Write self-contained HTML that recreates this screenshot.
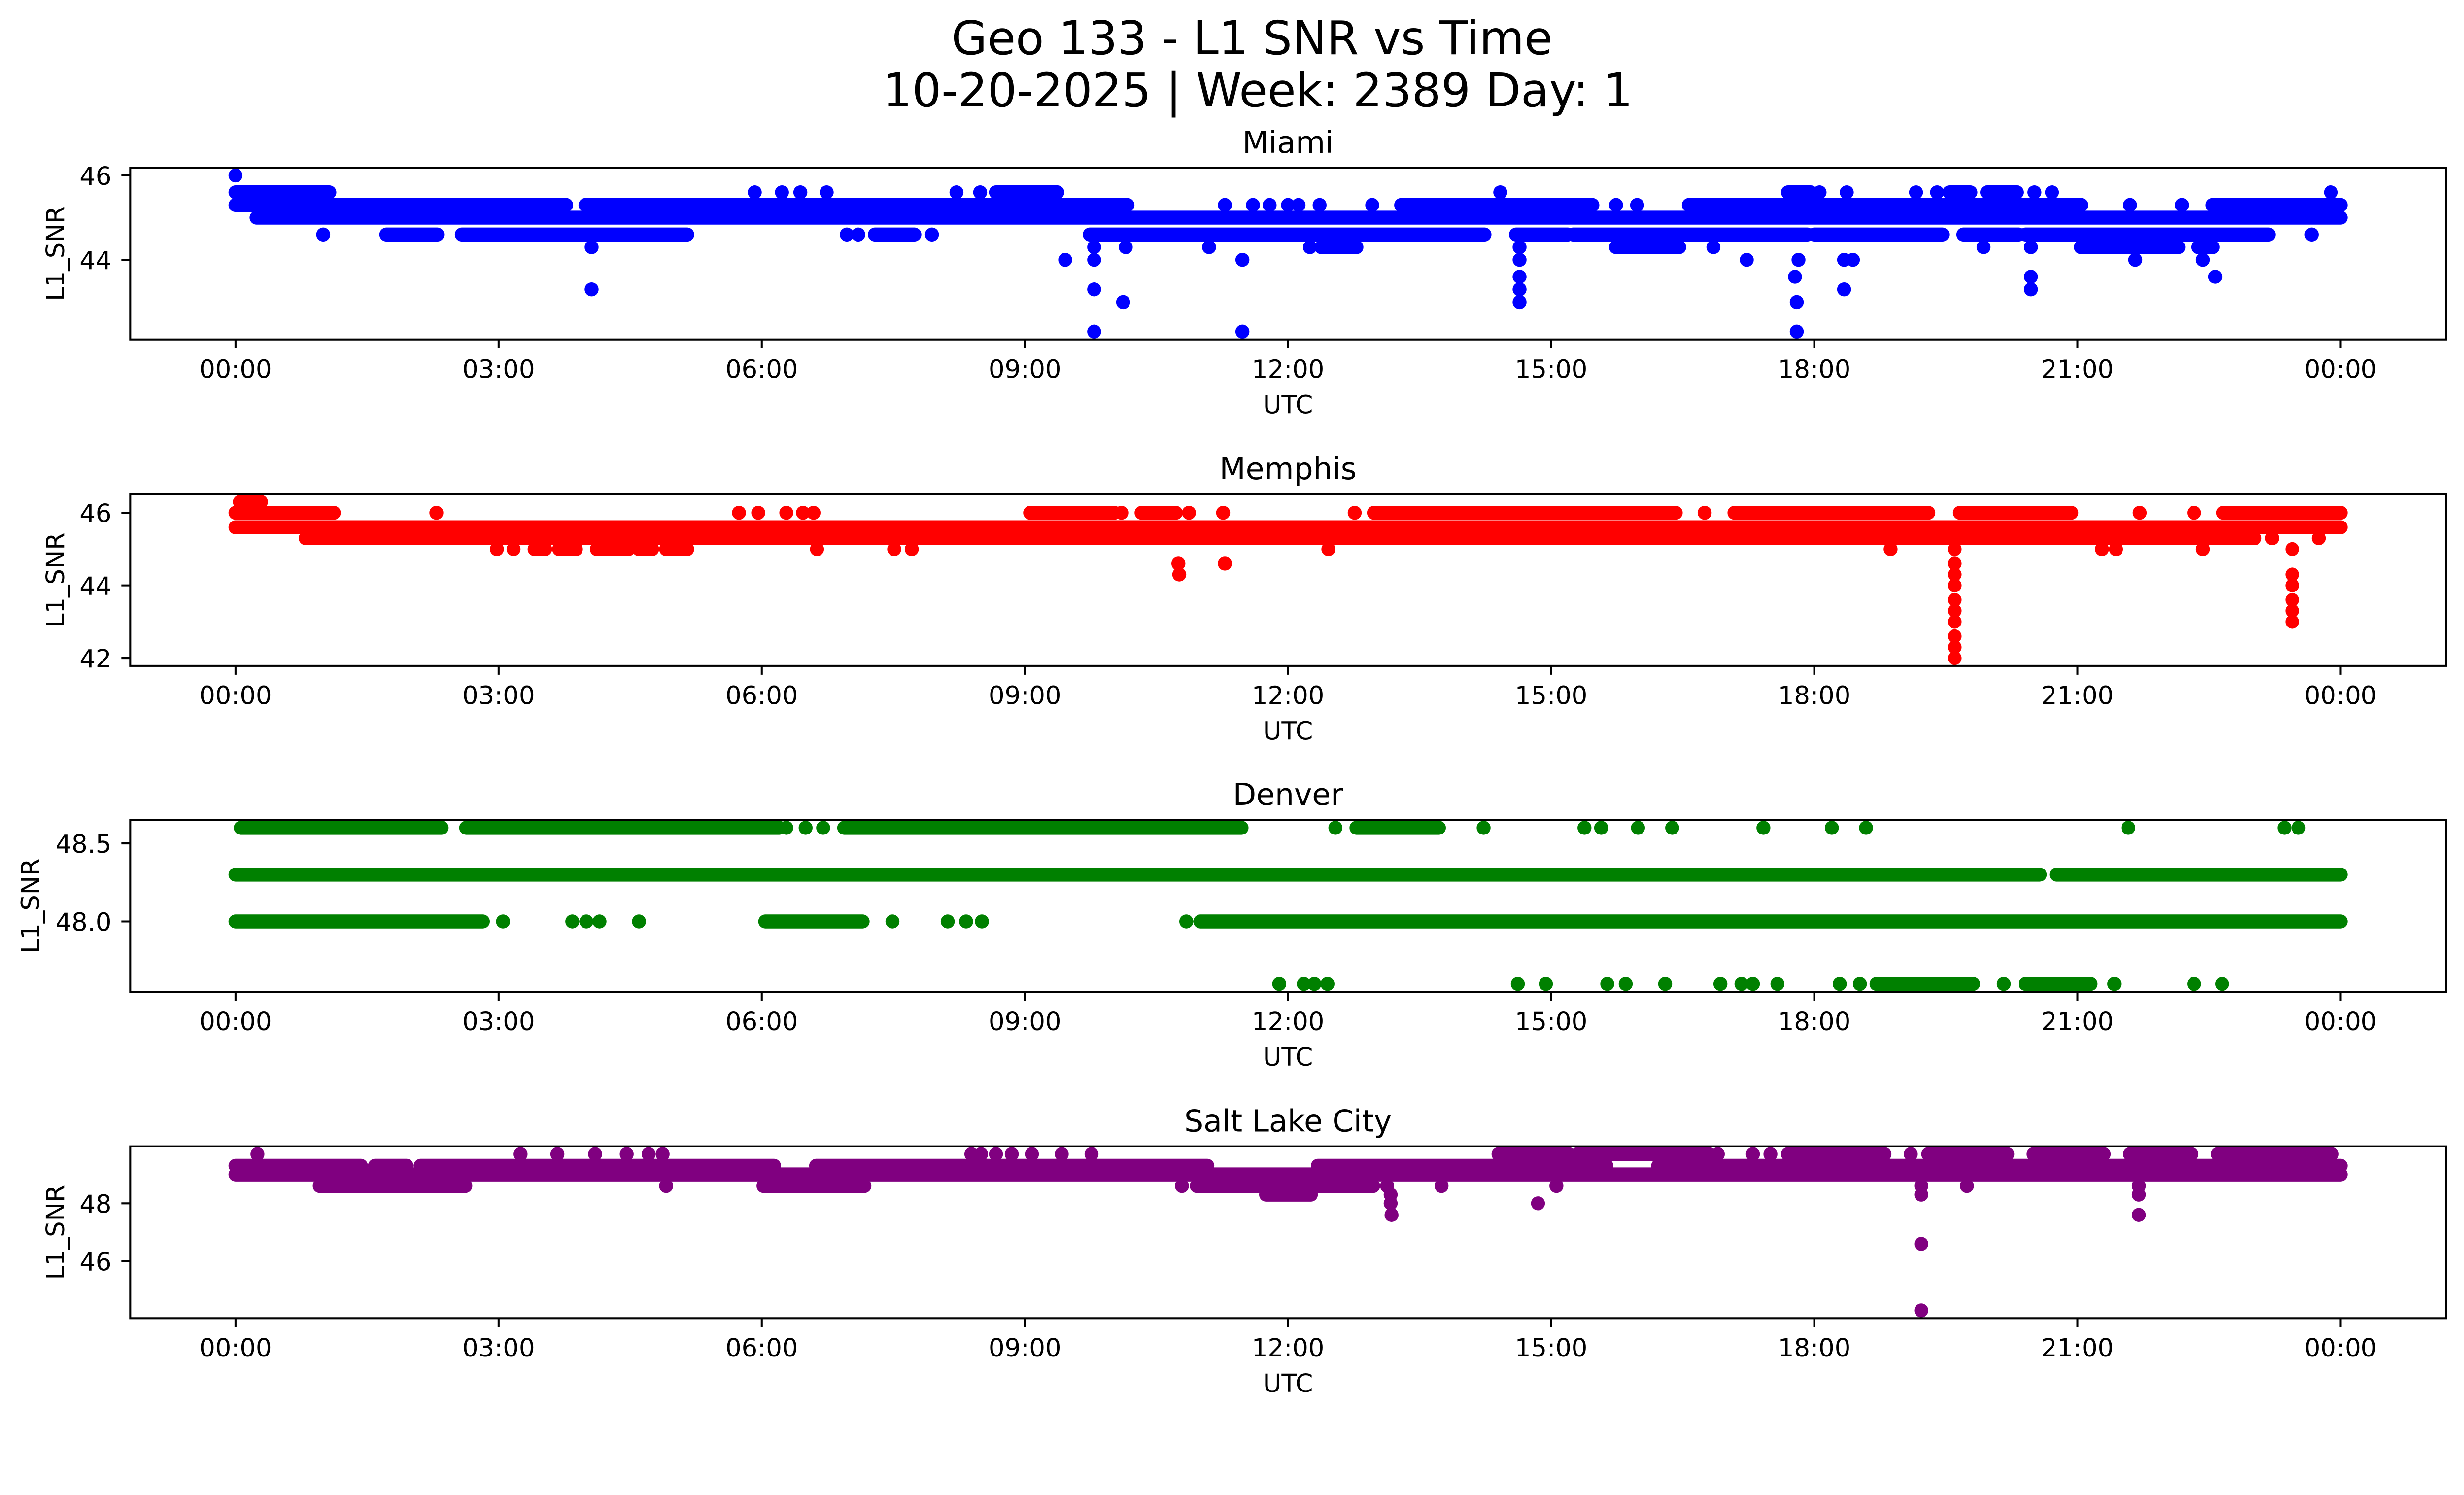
<!DOCTYPE html>
<html><head><meta charset="utf-8"><title>Geo 133 - L1 SNR vs Time</title>
<style>html,body{margin:0;padding:0;background:#fff;overflow:hidden;}svg{display:block;width:100vw;height:57.465vw;font-family:"DejaVu Sans","Liberation Sans",sans-serif;}</style>
</head><body>
<svg id="fig" xmlns="http://www.w3.org/2000/svg" viewBox="0 0 5278 3033" preserveAspectRatio="xMinYMin meet">
<rect x="0" y="0" width="5278" height="3033" fill="#fff"/>
<text x="2682" y="116" font-size="100" text-anchor="middle" textLength="1288" lengthAdjust="spacingAndGlyphs">Geo 133 - L1 SNR vs Time</text>
<text x="2694" y="228" font-size="100" text-anchor="middle" textLength="1607" lengthAdjust="spacingAndGlyphs">10-20-2025 | Week: 2389 Day: 1</text>
</svg>
<script>
// ---- x axis (hours UTC) ----
const xTickHours = [0, 3, 6, 9, 12, 15, 18, 21, 24];
const xTickLabels = ["00:00","03:00","06:00","09:00","12:00","15:00","18:00","21:00","00:00"];
const dayRange = [0, 24];

// ---- Miami ----
const miamiSegStart = [0, 0, 3.99, 0.24, 2.58, 9.74, 14.6, 15.25, 18.0, 19.7, 20.41, 8.67, 13.29, 16.57, 22.54, 7.29, 1.72, 12.38, 15.74, 21.04, 22.38, 19.54, 19.97, 17.7];
const miamiSegEnd   = [1.07, 3.77, 10.17, 24, 5.15, 14.24, 15.19, 17.92, 19.46, 20.33, 23.18, 9.37, 15.47, 21.04, 24, 7.74, 2.3, 12.78, 16.46, 22.15, 22.54, 19.78, 20.31, 17.96];
const miamiSegLevel = [45.6, 45.3, 45.3, 45.0, 44.6, 44.6, 44.6, 44.6, 44.6, 44.6, 44.6, 45.6, 45.3, 45.3, 45.3, 44.6, 44.6, 44.3, 44.3, 44.3, 44.3, 45.6, 45.6, 45.6];
const miamiPtTime  = [0, 5.92, 6.23, 6.44, 6.74, 8.22, 8.49, 14.42, 18.06, 18.37, 19.16, 19.4, 20.51, 20.71, 23.89,
  11.28, 11.6, 11.79, 12.0, 12.12, 12.36, 12.96, 15.74, 15.98, 21.6, 22.19,
  1.0, 6.97, 7.1, 7.94, 23.67,
  4.06, 9.79, 10.15, 11.1, 12.25, 14.64, 16.85, 19.93, 20.47,
  9.46, 9.79, 11.48, 14.64, 17.23, 17.82, 18.34, 18.44, 21.66, 22.43,
  14.64, 17.78, 20.47, 22.57,
  4.06, 9.79, 14.64, 18.34, 20.47,
  10.12, 14.64, 17.8,
  9.79, 11.48, 17.8];
const miamiPtLevel = [46.0, 45.6, 45.6, 45.6, 45.6, 45.6, 45.6, 45.6, 45.6, 45.6, 45.6, 45.6, 45.6, 45.6, 45.6,
  45.3, 45.3, 45.3, 45.3, 45.3, 45.3, 45.3, 45.3, 45.3, 45.3, 45.3,
  44.6, 44.6, 44.6, 44.6, 44.6,
  44.3, 44.3, 44.3, 44.3, 44.3, 44.3, 44.3, 44.3, 44.3,
  44.0, 44.0, 44.0, 44.0, 44.0, 44.0, 44.0, 44.0, 44.0, 44.0,
  43.6, 43.6, 43.6, 43.6,
  43.3, 43.3, 43.3, 43.3, 43.3,
  43.0, 43.0, 43.0,
  42.3, 42.3, 42.3];
const miamiYTicks = [44, 46];
const miamiYTickLabels = ["44", "46"];

// ---- Memphis ----
const memphisSegStart = [0, 0, 0.8, 9.06, 10.33, 12.98, 17.09, 19.66, 22.66, 0.05, 3.41, 3.69, 4.12, 4.6, 4.91];
const memphisSegEnd   = [1.12, 24, 23.02, 10.02, 10.72, 16.42, 19.3, 20.93, 24, 0.29, 3.53, 3.88, 4.48, 4.75, 5.15];
const memphisSegLevel = [46.0, 45.6, 45.3, 46.0, 46.0, 46.0, 46.0, 46.0, 46.0, 46.3, 45.0, 45.0, 45.0, 45.0, 45.0];
const memphisPtTime  = [2.29, 5.74, 5.96, 6.28, 6.47, 6.59, 10.1, 10.87, 11.26, 12.76, 16.75, 21.71, 22.33,
  23.22, 23.75,
  2.98, 3.17, 6.63, 7.51, 7.71, 12.46, 18.87, 21.28, 21.44, 22.43, 23.45, 19.6,
  10.75, 11.28, 19.6,
  10.76, 19.6, 23.45,
  19.6, 23.45,
  19.6, 23.45,
  19.6, 23.45,
  19.6, 23.45,
  19.6, 19.6, 19.6];
const memphisPtLevel = [46.0, 46.0, 46.0, 46.0, 46.0, 46.0, 46.0, 46.0, 46.0, 46.0, 46.0, 46.0, 46.0,
  45.3, 45.3,
  45.0, 45.0, 45.0, 45.0, 45.0, 45.0, 45.0, 45.0, 45.0, 45.0, 45.0, 45.0,
  44.6, 44.6, 44.6,
  44.3, 44.3, 44.3,
  44.0, 44.0,
  43.6, 43.6,
  43.3, 43.3,
  43.0, 43.0,
  42.6, 42.3, 42.0];
const memphisYTicks = [42, 44, 46];
const memphisYTickLabels = ["42", "44", "46"];

// ---- Denver ----
const denverSegStart = [0.06, 2.63, 6.94, 12.78, 0, 20.76, 0, 6.04, 11.0, 18.71, 20.41];
const denverSegEnd   = [2.35, 6.2, 11.47, 13.72, 20.57, 24, 2.82, 7.15, 24, 19.81, 21.15];
const denverSegLevel = [48.6, 48.6, 48.6, 48.6, 48.3, 48.3, 48.0, 48.0, 48.0, 47.6, 47.6];
const denverPtTime  = [6.28, 6.5, 6.7, 12.54, 14.23, 15.38, 15.57, 15.99, 16.38, 17.42, 18.2, 18.59, 21.58, 23.36, 23.52,
  3.05, 3.84, 4.0, 4.15, 4.6, 7.49, 8.12, 8.33, 8.51, 10.84,
  11.9, 12.18, 12.3, 12.45, 14.62, 14.94, 15.64, 15.85, 16.3, 16.93, 17.17, 17.3, 17.58, 18.29, 18.52, 20.16, 21.42, 22.33, 22.65];
const denverPtLevel = [48.6, 48.6, 48.6, 48.6, 48.6, 48.6, 48.6, 48.6, 48.6, 48.6, 48.6, 48.6, 48.6, 48.6, 48.6,
  48.0, 48.0, 48.0, 48.0, 48.0, 48.0, 48.0, 48.0, 48.0, 48.0,
  47.6, 47.6, 47.6, 47.6, 47.6, 47.6, 47.6, 47.6, 47.6, 47.6, 47.6, 47.6, 47.6, 47.6, 47.6, 47.6, 47.6, 47.6, 47.6];
const denverYTicks = [48.0, 48.5];
const denverYTickLabels = ["48.0", "48.5"];

// ---- Salt Lake City ----
const slcSegStart = [0, 1.59, 2.11, 6.62, 12.34, 16.22, 0, 0.96, 6.02, 10.96, 11.75, 14.4, 15.3, 17.7, 19.3, 20.5, 21.6, 22.6];
const slcSegEnd   = [1.43, 1.95, 6.14, 11.08, 15.63, 24, 24, 2.62, 7.17, 12.97, 12.26, 15.2, 16.8, 18.8, 20.2, 21.3, 22.3, 23.9];
const slcSegLevel = [49.3, 49.3, 49.3, 49.3, 49.3, 49.3, 49.0, 48.6, 48.6, 48.6, 48.3, 49.7, 49.7, 49.7, 49.7, 49.7, 49.7, 49.7];
const slcPtTime  = [0.25, 3.25, 3.67, 4.1, 4.46, 4.71, 4.87, 8.39, 8.5, 8.67, 8.85, 9.08, 9.42, 9.76, 16.9, 17.3, 17.5, 19.1,
  4.91, 10.79, 13.13, 13.75, 15.06, 19.22, 19.74, 21.7,
  13.17, 19.22, 21.7,
  13.17, 14.85,
  13.18, 21.7,
  19.22, 19.22];
const slcPtLevel = [49.7, 49.7, 49.7, 49.7, 49.7, 49.7, 49.7, 49.7, 49.7, 49.7, 49.7, 49.7, 49.7, 49.7, 49.7, 49.7, 49.7, 49.7,
  48.6, 48.6, 48.6, 48.6, 48.6, 48.6, 48.6, 48.6,
  48.3, 48.3, 48.3,
  48.0, 48.0,
  47.6, 47.6,
  46.6, 44.3];
const slcYTicks = [46, 48];
const slcYTickLabels = ["46", "48"];

const NS = "http://www.w3.org/2000/svg";
const fig = document.getElementById("fig");
const AX_L = 279, AX_R = 5239, AX_H = 368, R = 15;

function el(tag, attrs, parent) {
  const e = document.createElementNS(NS, tag);
  for (const k in attrs) e.setAttribute(k, attrs[k]);
  parent.appendChild(e);
  return e;
}

function drawPanel(cfg) {
  const g = el("g", {}, fig);
  
  
  const top = cfg.top, bottom = top + AX_H;
  const span = dayRange[1] - dayRange[0];
  const x0 = dayRange[0] - 0.05 * span, x1 = dayRange[1] + 0.05 * span;
  const xs = h => AX_L + (h - x0) / (x1 - x0) * (AX_R - AX_L);
  const allLv = cfg.segLevel.concat(cfg.ptLevel);
  const mn = Math.min(...allLv), mx = Math.max(...allLv);
  const y0 = mn - 0.05 * (mx - mn), y1 = mx + 0.05 * (mx - mn);
  const ys = v => bottom - (v - y0) / (y1 - y0) * AX_H;

  const clip = el("clipPath", {id: "clip-" + cfg.key}, g);
  el("rect", {x: AX_L, y: top, width: AX_R - AX_L, height: AX_H}, clip);
  const marks = el("g", {"clip-path": "url(#clip-" + cfg.key + ")"}, g);
  
  
  for (let i = 0; i < cfg.segStart.length; i++) {
    const ln = el("line", {x1: xs(cfg.segStart[i]), x2: xs(cfg.segEnd[i]), y1: ys(cfg.segLevel[i]), y2: ys(cfg.segLevel[i]),
      stroke: cfg.color, "stroke-width": 2 * R, "stroke-linecap": "round"}, marks);
    
    
  }
  for (let i = 0; i < cfg.ptTime.length; i++) {
    const c = el("circle", {cx: xs(cfg.ptTime[i]), cy: ys(cfg.ptLevel[i]), r: R, fill: cfg.color}, marks);
    
    
  }
  const frame = el("rect", {x: AX_L, y: top, width: AX_R - AX_L, height: AX_H, fill: "none", stroke: "#000", "stroke-width": 4.3}, g);
  
  
  for (let i = 0; i < xTickHours.length; i++) {
    const x = xs(xTickHours[i]);
    const t = el("line", {x1: x, x2: x, y1: bottom, y2: bottom + 19, stroke: "#000", "stroke-width": 4.3}, g);
    
    
    const lb = el("text", {x: x, y: bottom + 82, "font-size": 54, "text-anchor": "middle"}, g);
    lb.textContent = xTickLabels[i];
    
    
  }
  const xl = el("text", {x: (AX_L + AX_R) / 2, y: bottom + 158, "font-size": 54, "text-anchor": "middle"}, g);
  xl.textContent = "UTC";
  
  
  for (let i = 0; i < cfg.yTicks.length; i++) {
    const y = ys(cfg.yTicks[i]);
    const t = el("line", {x1: AX_L - 19, x2: AX_L, y1: y, y2: y, stroke: "#000", "stroke-width": 4.3}, g);
    
    
    const lb = el("text", {x: AX_L - 40, y: y + 20, "font-size": 54, "text-anchor": "end"}, g);
    lb.textContent = cfg.yTickLabels[i];
    
    
  }
  const yc = top + AX_H / 2;
  const yl = el("text", {x: cfg.ylabX, y: yc, "font-size": 54, "text-anchor": "middle",
    transform: "rotate(-90 " + cfg.ylabX + " " + yc + ")"}, g);
  yl.textContent = "L1_SNR";
  
  
  const tt = el("text", {x: (AX_L + AX_R) / 2, y: top - 32, "font-size": 65, "text-anchor": "middle"}, g);
  tt.textContent = cfg.title;
  
  
}

drawPanel({key: "miami", title: "Miami", top: 359, color: "#0000ff", ylabX: 137,
  segStart: miamiSegStart, segEnd: miamiSegEnd, segLevel: miamiSegLevel, ptTime: miamiPtTime, ptLevel: miamiPtLevel,
  yTicks: miamiYTicks, yTickLabels: miamiYTickLabels});
drawPanel({key: "memphis", title: "Memphis", top: 1058, color: "#ff0000", ylabX: 137,
  segStart: memphisSegStart, segEnd: memphisSegEnd, segLevel: memphisSegLevel, ptTime: memphisPtTime, ptLevel: memphisPtLevel,
  yTicks: memphisYTicks, yTickLabels: memphisYTickLabels});
drawPanel({key: "denver", title: "Denver", top: 1756, color: "#008000", ylabX: 84,
  segStart: denverSegStart, segEnd: denverSegEnd, segLevel: denverSegLevel, ptTime: denverPtTime, ptLevel: denverPtLevel,
  yTicks: denverYTicks, yTickLabels: denverYTickLabels});
drawPanel({key: "salt-lake-city", title: "Salt Lake City", top: 2455, color: "#800080", ylabX: 137,
  segStart: slcSegStart, segEnd: slcSegEnd, segLevel: slcSegLevel, ptTime: slcPtTime, ptLevel: slcPtLevel,
  yTicks: slcYTicks, yTickLabels: slcYTickLabels});
</script>
</body></html>
